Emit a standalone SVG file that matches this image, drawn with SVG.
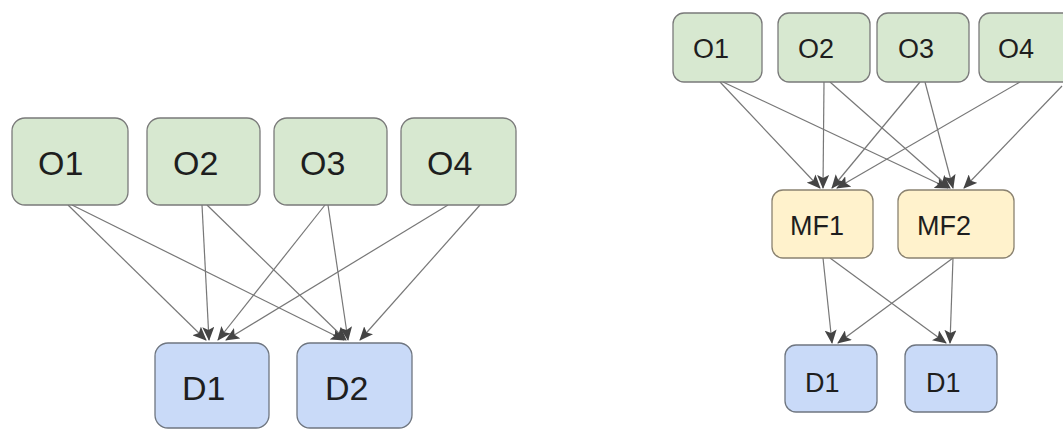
<svg xmlns="http://www.w3.org/2000/svg" width="1063" height="444" viewBox="0 0 1063 444">
<defs>
<marker id="ah" markerWidth="14" markerHeight="12" refX="13" refY="6" orient="auto" markerUnits="userSpaceOnUse">
<path d="M0,0 L14,6 L0,12 L3,6 z" fill="#444"/>
</marker>
<style>
.o{fill:#d7e8d0;stroke:#7a7a7a;stroke-width:1.3}
.d{fill:#c9daf8;stroke:#6f7680;stroke-width:1.3}
.m{fill:#fff2cc;stroke:#8a8270;stroke-width:1.3}
.t{font-family:"Liberation Sans",Arial,sans-serif;fill:#1e1e1e}
.big{font-size:34px}
.sm{font-size:27px}
.e{stroke:#777;stroke-width:1.2;fill:none;marker-end:url(#ah)}
</style>
</defs>
<rect width="1063" height="444" fill="#fff"/>
<g id="connectors">
<line class="e" x1="68" y1="205" x2="206" y2="340"/>
<line class="e" x1="72" y1="205" x2="344" y2="340"/>
<line class="e" x1="202" y1="205" x2="209" y2="340"/>
<line class="e" x1="207" y1="205" x2="346" y2="340"/>
<line class="e" x1="325" y1="205" x2="218" y2="340"/>
<line class="e" x1="328" y1="205" x2="348" y2="340"/>
<line class="e" x1="448" y1="205" x2="226" y2="340"/>
<line class="e" x1="480" y1="205" x2="360" y2="340"/>
<line class="e" x1="720" y1="82" x2="820" y2="188"/>
<line class="e" x1="723" y1="82" x2="948" y2="188"/>
<line class="e" x1="824" y1="82" x2="823" y2="188"/>
<line class="e" x1="830" y1="82" x2="950" y2="188"/>
<line class="e" x1="920" y1="82" x2="832" y2="188"/>
<line class="e" x1="925" y1="82" x2="953" y2="188"/>
<line class="e" x1="1020" y1="82" x2="837" y2="188"/>
<line class="e" x1="1062" y1="86" x2="964" y2="188"/>
<line class="e" x1="823" y1="258" x2="832" y2="343"/>
<line class="e" x1="830" y1="258" x2="946" y2="343"/>
<line class="e" x1="953" y1="258" x2="838" y2="343"/>
<line class="e" x1="953" y1="258" x2="950" y2="343"/>
</g>
<g id="L_O1"><rect class="o" x="12" y="118" width="116" height="87" rx="13"/><text class="t big" x="38" y="175">O1</text></g>
<g id="L_O2"><rect class="o" x="147" y="118" width="113" height="87" rx="13"/><text class="t big" x="173" y="175">O2</text></g>
<g id="L_O3"><rect class="o" x="274" y="118" width="113" height="87" rx="13"/><text class="t big" x="300" y="175">O3</text></g>
<g id="L_O4"><rect class="o" x="401" y="118" width="115" height="87" rx="13"/><text class="t big" x="427" y="175">O4</text></g>
<g id="L_D1"><rect class="d" x="155" y="343" width="114" height="85" rx="13"/><text class="t big" x="182" y="400">D1</text></g>
<g id="L_D2"><rect class="d" x="297" y="343" width="115" height="85" rx="13"/><text class="t big" x="325" y="400">D2</text></g>
<g id="R_O1"><rect class="o" x="673" y="13" width="89" height="69" rx="11"/><text class="t sm" x="693" y="58">O1</text></g>
<g id="R_O2"><rect class="o" x="778" y="13" width="92" height="69" rx="11"/><text class="t sm" x="798" y="58">O2</text></g>
<g id="R_O3"><rect class="o" x="877" y="13" width="92" height="69" rx="11"/><text class="t sm" x="898" y="58">O3</text></g>
<g id="R_O4"><rect class="o" x="979" y="13" width="95" height="69" rx="11"/><text class="t sm" x="998" y="58">O4</text></g>
<g id="R_MF1"><rect class="m" x="772" y="190" width="101" height="68" rx="11"/><text class="t sm" x="790" y="235">MF1</text></g>
<g id="R_MF2"><rect class="m" x="898" y="190" width="116" height="68" rx="11"/><text class="t sm" x="917" y="235">MF2</text></g>
<g id="R_D1a"><rect class="d" x="785" y="345" width="92" height="67" rx="11"/><text class="t sm" x="805" y="392">D1</text></g>
<g id="R_D1b"><rect class="d" x="905" y="345" width="92" height="67" rx="11"/><text class="t sm" x="926" y="392">D1</text></g>
</svg>
